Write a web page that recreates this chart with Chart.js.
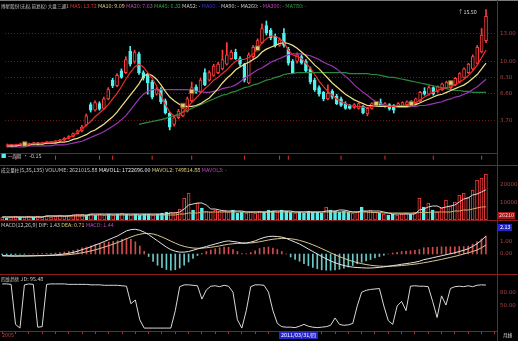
<!DOCTYPE html>
<html>
<head>
<meta charset="utf-8">
<script src="https://cdn.jsdelivr.net/npm/chart.js@4.4.1/dist/chart.umd.min.js"></script>
<style>
html, body { margin: 0; padding: 0; background: #000; }
#wrap { position: relative; width: 518px; height: 341px; background: #000; overflow: hidden;
        font-family: "Noto Sans CJK SC", "DejaVu Sans", sans-serif; }
canvas { position: absolute; left: 0; }
.t { position: absolute; font-size: 5.4px; line-height: 7px; white-space: nowrap; color: #c4c4c4; }
.cj { font-size: 4.6px; }
.hl { position: absolute; left: 0; width: 518px; height: 1px; background: #8a1c1c; }
</style>
</head>
<body>
<div id="wrap">
  <canvas id="cPrice" width="518" height="165" style="top:0"></canvas>
  <canvas id="cVol" width="518" height="54" style="top:166px"></canvas>
  <canvas id="cMacd" width="518" height="51" style="top:221px"></canvas>
  <canvas id="cJd" width="518" height="62" style="top:276px"></canvas>

  <div style="position:absolute;left:0;top:0;width:518px;height:1px;background:#7a7a7a"></div>
  <div class="hl" style="top:153px;width:497px"></div>
  <div class="hl" style="top:165px"></div>
  <div class="hl" style="top:220px"></div>
  <div class="hl" style="top:274px"></div>
  <div style="position:absolute;left:497px;top:0;width:1px;height:341px;background:#8a1c1c"></div>

  <div class="t" style="left:1px;top:3px"><span class="cj">博星股份(无权,前复权) 大盘三通1</span>
    <span style="color:#d03434">MA5: 13.72</span>
    <span style="color:#d8c878">MA10: 9.09</span>
    <span style="color:#c040c0">MA20: 7.63</span>
    <span style="color:#2ea044">MA45: 6.32</span>
    <span>MA52: -</span>
    <span style="color:#3434d0">MA60: -</span>
    <span>MA90: -</span>
    <span>MA260: -</span>
    <span style="color:#c040c0">MA300: -</span>
    <span style="color:#2ea044">MA780: -</span></div>
  <div class="t" style="left:458px;top:9px;color:#d0d0d0">↑15.50</div>
  <div class="t" style="left:1px;top:153px"><span style="color:#54f0f0">■</span> <span class="cj">一周期</span> · -0.15</div>

  <div class="t" style="left:1px;top:167px"><span class="cj">成交量柱</span>(5,35,135) VOLUME: 2621015.88
    <span style="color:#e8e8e8">MAVOL1: 1722696.00</span>
    <span style="color:#d8c878">MAVOL2: 749814.88</span>
    <span style="color:#c040c0">MAVOL3: -</span></div>
  <div class="t" style="left:498px;top:212px;background:#a01818;color:#f0d0d0;padding:0 1px">26210</div>

  <div class="t" style="left:1px;top:222px">MACD(12,26,9) DIF: 1.43 <span style="color:#d8c878">DEA: 0.71</span>
    <span style="color:#c040c0">MACD: 1.44</span></div>
  <div class="t" style="left:498px;top:224px;background:#2424c8;color:#fff;padding:0 2px">2.13</div>

  <div class="t" style="left:1px;top:276px"><span class="cj">四维趋势</span> JD: 95.48</div>

  <div class="t" style="left:2px;top:332px;color:#c04040">2005</div>
  <div class="t" style="left:279px;top:332px;background:#2424c8;color:#fff;padding:0 2px">2011/03/31/<span class="cj">四</span></div>
  <div class="t" style="left:503px;top:332px;color:#e0e0e0"><span class="cj">月线</span></div>
</div>

<script>
// months (monthly candles), two empty slots at the right end
const months = [];
for (let i = 0; i < 112; i++) {
    const m = 9 + i;
    months.push((2005 + Math.floor(m / 12)) + '/' + String(m % 12 + 1).padStart(2, '0'));
}

// ---- price (OHLC) ----
const opens = [
    1.0, 1.05, 1.0, 1.1, 1.2, 1.1, 1.2, 1.3, 1.2, 1.3,
    1.35, 1.4, 1.5, 1.6, 1.8, 2.0, 2.3, 2.6, 3.2, 5.4,
    4.8, 5.5, 5.0, 6.0, 8.0, 7.4, 9.0, 8.8, 11.1, 10.0,
    10.8, 8.8, 8.5, 7.8, 6.5, 7.0, 5.8, 4.5, 3.3, 4.0,
    4.2, 4.7, 5.8, 7.3, 6.7, 8.8, 8.0, 8.5, 8.8, 9.2,
    9.7, 10.3, 11.0, 10.3, 9.7, 7.7, 10.5, 11.2, 12.0, 13.8,
    13.3, 12.7, 11.7, 13.0, 11.3, 10.0, 10.0, 10.5, 10.0, 9.2,
    8.0, 7.2, 6.7, 6.0, 6.8, 6.3, 6.0, 5.5, 5.3, 5.1,
    5.0, 5.2, 4.4, 5.0, 5.3, 5.6, 5.2, 5.4, 5.3, 5.2,
    5.3, 5.4, 5.7, 5.5, 5.8, 6.8, 6.5, 7.2, 6.8, 7.0,
    7.2, 7.2, 7.5, 7.8, 8.3, 8.8, 9.2, 9.8, 11.0, 12.2
];
const closes = [
    1.1, 1.0, 1.1, 1.2, 1.1, 1.2, 1.3, 1.2, 1.3, 1.4,
    1.42, 1.5, 1.6, 1.8, 2.0, 2.3, 2.6, 3.0, 4.2, 4.8,
    5.6, 4.9, 6.0, 7.0, 7.4, 8.5, 8.3, 10.2, 9.7, 11.0,
    8.8, 8.2, 7.7, 6.2, 7.0, 5.7, 4.5, 3.0, 4.0, 4.7,
    5.0, 6.0, 7.2, 6.8, 8.0, 7.5, 8.8, 9.5, 9.7, 10.2,
    10.7, 11.0, 10.3, 9.7, 8.0, 10.7, 11.5, 12.2, 13.5, 13.0,
    12.5, 11.7, 12.3, 11.7, 9.8, 8.8, 10.7, 9.8, 9.0, 7.8,
    7.0, 6.5, 6.0, 6.6, 6.2, 5.5, 5.3, 5.0, 5.0, 5.4,
    5.5, 4.5, 5.0, 5.5, 5.6, 5.3, 5.5, 4.9, 4.8, 5.5,
    5.6, 5.7, 5.4, 6.0, 6.7, 6.5, 7.2, 6.5, 7.3, 7.6,
    7.8, 7.7, 8.2, 8.7, 9.2, 9.7, 10.5, 11.5, 12.8, 14.8
];
const highs = [
    1.2, 1.15, 1.2, 1.3, 1.25, 1.3, 1.4, 1.35, 1.4, 1.5,
    1.5, 1.6, 1.7, 1.9, 2.1, 2.4, 2.7, 3.2, 4.4, 5.6,
    5.8, 5.7, 6.2, 7.2, 8.2, 8.7, 9.2, 10.5, 11.6, 11.2,
    11.0, 9.0, 8.7, 8.0, 7.2, 7.2, 6.0, 4.6, 4.2, 4.9,
    5.2, 6.2, 7.8, 7.5, 8.2, 9.2, 9.0, 9.7, 9.9, 11.2,
    12.0, 11.2, 11.3, 10.5, 9.8, 10.9, 11.7, 12.4, 14.0, 14.3,
    13.5, 12.9, 12.5, 13.5, 11.5, 10.2, 10.9, 10.7, 10.2, 9.4,
    8.2, 7.4, 6.8, 7.5, 7.0, 6.5, 6.2, 5.7, 5.4, 5.5,
    5.6, 5.3, 5.1, 5.6, 5.7, 6.0, 5.6, 5.5, 5.4, 5.6,
    5.7, 5.8, 5.8, 6.1, 6.8, 7.2, 7.4, 7.3, 7.4, 7.7,
    7.9, 7.9, 8.3, 8.8, 9.3, 9.8, 10.7, 11.7, 13.5, 15.5
];
const lows = [
    0.9, 0.9, 0.95, 1.05, 1.0, 1.05, 1.15, 1.1, 1.15, 1.25,
    1.3, 1.35, 1.45, 1.55, 1.75, 1.95, 2.25, 2.5, 3.1, 4.6,
    4.7, 4.8, 4.9, 5.9, 7.2, 7.3, 8.2, 8.7, 9.5, 9.8,
    8.6, 8.0, 6.5, 6.0, 6.4, 5.5, 4.4, 2.7, 3.1, 3.9,
    4.1, 4.6, 5.7, 6.6, 6.6, 7.4, 7.9, 8.4, 8.7, 9.1,
    9.6, 10.2, 10.2, 9.5, 7.8, 7.6, 10.3, 11.1, 11.9, 12.8,
    12.3, 11.5, 11.6, 11.5, 9.6, 8.7, 9.8, 9.7, 8.8, 7.6,
    6.8, 6.3, 5.8, 5.9, 6.0, 5.4, 5.2, 4.9, 4.9, 5.0,
    4.9, 4.4, 4.2, 4.9, 5.2, 5.2, 5.1, 4.8, 4.5, 5.1,
    5.2, 5.3, 5.3, 5.4, 5.7, 6.4, 6.4, 6.4, 6.7, 6.9,
    7.1, 7.1, 7.4, 7.7, 8.2, 8.7, 9.1, 9.7, 10.9, 12.0
];

// ---- moving averages ----
const ma5 = [
    1.1, 1.1, 1.1, 1.2, 1.2, 1.2, 1.3, 1.3, 1.3, 1.4,
    1.4, 1.5, 1.6, 1.7, 1.9, 2.1, 2.4, 2.8, 3.2, 3.6,
    4.1, 4.5, 4.9, 5.4, 6.0, 6.6, 7.3, 8.1, 8.8, 9.4,
    9.7, 9.4, 8.8, 8.2, 7.4, 6.4, 5.4, 4.6, 4.2, 4.2,
    4.6, 5.1, 5.6, 6.1, 6.6, 7.1, 7.5, 8.0, 8.3, 8.7,
    9.1, 9.6, 10.0, 10.2, 10.2, 10.4, 10.8, 11.3, 12.0, 12.4,
    12.7, 12.7, 12.4, 12.0, 11.2, 10.7, 10.5, 10.3, 9.8, 9.3,
    8.6, 7.9, 7.3, 6.8, 6.4, 6.0, 5.7, 5.5, 5.3, 5.2,
    5.2, 5.1, 5.1, 5.2, 5.3, 5.3, 5.3, 5.2, 5.2, 5.3,
    5.3, 5.4, 5.5, 5.6, 5.9, 6.2, 6.5, 6.7, 6.9, 7.1,
    7.2, 7.3, 7.5, 7.8, 8.1, 8.5, 9.0, 9.6, 10.4, 11.2
];
const ma10 = [
    1.0, 1.0, 1.0, 1.1, 1.1, 1.1, 1.2, 1.2, 1.2, 1.3,
    1.3, 1.3, 1.4, 1.4, 1.5, 1.7, 1.8, 2.0, 2.2, 2.5,
    2.7, 3.0, 3.3, 3.7, 4.1, 4.6, 5.2, 5.8, 6.4, 7.0,
    7.6, 8.4, 8.7, 8.5, 8.1, 7.5, 6.8, 6.2, 5.8, 5.5,
    5.2, 5.2, 5.2, 5.3, 5.5, 5.8, 6.1, 6.6, 7.1, 7.7,
    8.2, 8.6, 9.1, 9.4, 9.7, 9.9, 10.2, 10.5, 11.0, 11.3,
    11.5, 11.7, 11.9, 12.0, 11.9, 11.7, 11.4, 11.0, 10.6, 10.1,
    9.6, 9.2, 8.7, 8.2, 7.7, 7.3, 6.9, 6.5, 6.2, 5.9,
    5.7, 5.5, 5.3, 5.3, 5.2, 5.2, 5.2, 5.2, 5.2, 5.2,
    5.2, 5.2, 5.3, 5.4, 5.6, 5.8, 6.0, 6.2, 6.4, 6.5,
    6.7, 6.9, 7.1, 7.3, 7.5, 7.8, 8.2, 8.6, 9.2, 9.8
];
const ma20 = [
    0.9, 0.9, 0.9, 0.9, 0.9, 1.0, 1.0, 1.0, 1.0, 1.0,
    1.0, 1.1, 1.1, 1.1, 1.2, 1.3, 1.4, 1.5, 1.7, 1.9,
    2.1, 2.3, 2.5, 2.8, 3.1, 3.4, 3.8, 4.2, 4.8, 5.4,
    6.0, 6.5, 6.8, 7.0, 7.0, 7.0, 7.0, 7.0, 7.0, 7.0,
    7.0, 7.0, 6.9, 6.8, 6.8, 6.7, 6.7, 6.8, 6.9, 7.1,
    7.2, 7.3, 7.5, 7.8, 8.2, 8.5, 8.8, 9.1, 9.3, 9.6,
    9.9, 10.1, 10.3, 10.5, 10.7, 10.8, 10.8, 10.8, 10.7, 10.6,
    10.4, 10.2, 9.9, 9.7, 9.5, 9.2, 8.8, 8.4, 8.0, 7.5,
    7.1, 6.7, 6.4, 6.0, 5.7, 5.5, 5.3, 5.2, 5.2, 5.1,
    5.1, 5.1, 5.2, 5.2, 5.3, 5.3, 5.4, 5.5, 5.6, 5.7,
    5.9, 6.0, 6.2, 6.3, 6.5, 6.7, 7.0, 7.3, 7.7, 8.1
];
const ma45 = [
    null, null, null, null, null, null, null, null, null, null,
    null, null, null, null, null, null, null, null, null, null,
    null, null, null, null, null, null, null, null, null, null,
    3.3, 3.4, 3.5, 3.6, 3.7, 3.8, 3.9, 4.1, 4.2, 4.4,
    4.6, 4.8, 5.0, 5.2, 5.4, 5.6, 5.8, 6.0, 6.2, 6.4,
    6.5, 6.7, 6.8, 7.0, 7.2, 7.3, 7.5, 7.6, 7.8, 8.0,
    8.1, 8.3, 8.4, 8.6, 8.7, 8.7, 8.8, 8.8, 8.8, 8.8,
    8.8, 8.8, 8.8, 8.8, 8.8, 8.8, 8.8, 8.8, 8.7, 8.7,
    8.7, 8.7, 8.7, 8.6, 8.6, 8.5, 8.4, 8.3, 8.3, 8.2,
    8.1, 8.0, 7.9, 7.8, 7.7, 7.6, 7.5, 7.4, 7.3, 7.2,
    7.1, 7.0, 6.9, 6.9, 6.8, 6.8, 6.7, 6.7, 6.7, 6.7
];

// buy/sell signal boxes and small strip marks
const signalIdx = [4, 40, 42, 57, 84, 92, 101];
const signalPrice = [1.2, 5.3, 6.8, 11.4, 5.5, 5.5, 7.7];
const stripIdx = [2, 11, 21, 24, 33, 42, 54, 62, 64, 76, 86, 97, 108];

// ---- volume (in hundreds) ----
const volume = [
    1710, 1140, 1710, 2280, 1710, 1710, 2280, 1710, 2280, 1710,
    2280, 1710, 2280, 2850, 2280, 2850, 2850, 3420, 3420, 2850,
    3420, 2850, 3420, 2850, 3420, 2850, 3420, 3990, 3420, 2850,
    3420, 2850, 3420, 3420, 2850, 3420, 3990, 4560, 4560, 4560,
    6270, 12540, 15390, 5700, 9690, 6840, 5130, 4560, 5700, 5130,
    5700, 4560, 5700, 3990, 4560, 3990, 4560, 3990, 5130, 4560,
    5700, 5130, 4560, 5700, 5130, 4560, 3990, 4560, 3990, 5130,
    4560, 4560, 3990, 7410, 5700, 5130, 4560, 5130, 4560, 3990,
    4560, 7410, 5130, 5700, 4560, 3990, 3420, 2850, 3420, 2850,
    3420, 3990, 3420, 4560, 12540, 7410, 9690, 5700, 4560, 6840,
    11400, 7980, 10260, 14250, 15390, 13110, 17100, 22800, 23940, 26210
];
const mavol1 = [
    1710, 1710, 1710, 1710, 1710, 1710, 1710, 1710, 1710, 1710,
    2280, 2280, 2280, 2280, 2280, 2280, 2850, 2850, 2850, 2850,
    3420, 3420, 3420, 3420, 3420, 3420, 3420, 3420, 3420, 3420,
    3420, 3420, 3420, 3420, 3420, 3420, 3420, 3420, 3990, 3990,
    4560, 6270, 8550, 9120, 9690, 9690, 8550, 6270, 6270, 5700,
    5130, 5130, 5130, 5130, 5130, 4560, 4560, 4560, 4560, 4560,
    4560, 5130, 5130, 5130, 5130, 5130, 4560, 4560, 4560, 4560,
    4560, 4560, 4560, 5130, 5130, 5130, 5700, 5700, 5130, 4560,
    4560, 5130, 5130, 5130, 5130, 5130, 4560, 3990, 3420, 3420,
    3420, 3420, 3420, 3420, 5700, 6270, 7410, 7980, 7980, 6840,
    7410, 7980, 8550, 10260, 11970, 12540, 14250, 14820, 15960, 17227
];
const mavol2 = [
    1710, 1710, 1710, 1710, 1710, 1710, 1710, 1710, 1710, 1710,
    2280, 2280, 2280, 2280, 2280, 2280, 2280, 2280, 2280, 2280,
    2850, 2850, 2850, 2850, 2850, 2850, 2850, 2850, 2850, 2850,
    2850, 2850, 2850, 2850, 2850, 2850, 2850, 2850, 2850, 2850,
    3420, 3420, 3990, 3990, 3990, 4560, 4560, 4560, 4560, 4560,
    4560, 4560, 4560, 4560, 4560, 4560, 4560, 4560, 4560, 4560,
    4560, 4560, 4560, 4560, 4560, 4560, 4560, 4560, 4560, 4560,
    4560, 4560, 4560, 4560, 4560, 4560, 4560, 4560, 4560, 4560,
    4560, 4560, 4560, 4275, 4275, 4275, 3990, 3990, 3990, 3990,
    3990, 3990, 3990, 3990, 4275, 4275, 4275, 4560, 4560, 4560,
    4560, 4560, 5130, 5130, 5700, 5700, 6270, 6840, 7410, 7498
];

// ---- MACD ----
const dif = [
    -0.15, -0.16, -0.17, -0.17, -0.16, -0.16, -0.15, -0.14, -0.13, -0.12,
    -0.11, -0.09, -0.07, -0.04, 0.0, 0.06, 0.13, 0.22, 0.35, 0.45,
    0.58, 0.72, 0.85, 1.0, 1.15, 1.3, 1.45, 1.65, 1.85, 1.95,
    1.98, 1.9, 1.75, 1.55, 1.3, 1.05, 0.8, 0.55, 0.35, 0.22,
    0.15, 0.15, 0.2, 0.3, 0.4, 0.5, 0.6, 0.7, 0.8, 0.9,
    1.0, 1.05, 1.0, 0.95, 0.88, 0.88, 0.95, 1.05, 1.2, 1.32,
    1.4, 1.42, 1.4, 1.35, 1.25, 1.1, 0.95, 0.8, 0.6, 0.4,
    0.2, 0.0, -0.2, -0.38, -0.55, -0.7, -0.82, -0.92, -1.0, -1.05,
    -1.08, -1.1, -1.12, -1.12, -1.1, -1.07, -1.03, -0.98, -0.93, -0.88,
    -0.82, -0.77, -0.72, -0.66, -0.58, -0.45, -0.38, -0.3, -0.22, -0.14,
    -0.06, 0.02, 0.1, 0.2, 0.3, 0.42, 0.6, 0.82, 1.1, 1.43
];
const dea = [
    -0.12, -0.13, -0.14, -0.15, -0.15, -0.15, -0.15, -0.15, -0.14, -0.14,
    -0.13, -0.12, -0.11, -0.1, -0.08, -0.05, -0.01, 0.04, 0.1, 0.17,
    0.25, 0.34, 0.44, 0.55, 0.67, 0.79, 0.92, 1.06, 1.22, 1.36,
    1.49, 1.58, 1.64, 1.65, 1.6, 1.5, 1.36, 1.2, 1.03, 0.87,
    0.72, 0.61, 0.53, 0.48, 0.46, 0.47, 0.5, 0.54, 0.59, 0.65,
    0.72, 0.78, 0.82, 0.85, 0.86, 0.87, 0.89, 0.92, 0.98, 1.05,
    1.12, 1.18, 1.22, 1.25, 1.25, 1.22, 1.17, 1.09, 0.99, 0.87,
    0.74, 0.59, 0.43, 0.27, 0.1, -0.06, -0.21, -0.35, -0.48, -0.59,
    -0.69, -0.77, -0.84, -0.9, -0.94, -0.97, -0.98, -0.98, -0.97, -0.95,
    -0.92, -0.89, -0.85, -0.81, -0.76, -0.7, -0.64, -0.57, -0.5, -0.43,
    -0.35, -0.27, -0.19, -0.1, 0.0, 0.1, 0.2, 0.32, 0.5, 0.71
];
const macdHist = [
    -0.05, -0.06, -0.06, -0.04, -0.02, -0.02, 0.0, 0.02, 0.02, 0.04,
    0.04, 0.06, 0.08, 0.12, 0.16, 0.22, 0.28, 0.36, 0.5, 0.56,
    0.66, 0.76, 0.82, 0.9, 0.96, 1.02, 1.06, 1.18, 1.26, 1.18,
    0.98, 0.64, 0.22, -0.2, -0.6, -0.9, -1.1, -1.24, -1.3, -1.26,
    -1.12, -0.9, -0.64, -0.36, -0.12, 0.06, 0.2, 0.32, 0.42, 0.5,
    0.56, 0.54, 0.36, 0.2, 0.04, 0.02, 0.12, 0.26, 0.44, 0.54,
    0.56, 0.48, 0.36, 0.2, 0.0, -0.24, -0.44, -0.58, -0.78, -0.94,
    -1.08, -1.18, -1.26, -1.3, -1.3, -1.28, -1.22, -1.14, -1.04, -0.92,
    -0.78, -0.66, -0.56, -0.44, -0.32, -0.2, -0.1, 0.0, 0.08, 0.14,
    0.2, 0.24, 0.26, 0.3, 0.36, 0.5, 0.52, 0.54, 0.56, 0.58,
    0.58, 0.58, 0.58, 0.6, 0.6, 0.64, 0.8, 1.0, 1.2, 1.44
];

// ---- JD line ----
const jd = [
    98, 98, 97, 10, 2, 96, 98, 97, 4, 5,
    97, 98, 98, 98, 98, 97, 97, 97, 97, 97,
    96, 96, 96, 95, 95, 95, 95, 94, 93, 55,
    63, 20, 2, 2, 2, 2, 2, 2, 2, 40,
    92, 96, 96, 95, 94, 65, 85, 93, 94, 92,
    95, 93, 80, 20, 2, 40, 92, 96, 96, 95,
    80, 40, 12, 5, 4, 4, 3, 6, 10, 6,
    4, 3, 4, 5, 8, 24, 10, 8, 9, 12,
    50, 80, 84, 86, 87, 88, 50, 18, 10, 50,
    60, 40, 93, 94, 93, 93, 92, 60, 25, 72,
    52, 88, 92, 93, 92, 94, 92, 95, 96, 95.48
];

const UP = '#ff3c3c';
const DOWN = '#54f0f0';
const AXIS = '#a84444';
const isUp = closes.map((c, i) => c >= opens[i]);

function rightAxis(min, max, vals, fmt) {
    return {
        position: 'right', min: min, max: max,
        afterBuildTicks: s => { s.ticks = vals.map(v => ({ value: v })); },
        afterFit: s => { s.width = 21; s.paddingTop = 0; s.paddingBottom = 0; },
        ticks: { color: AXIS, font: { size: 5.5, family: 'DejaVu Sans' }, padding: 3, callback: fmt },
        grid: { display: false, drawTicks: false },
        border: { display: false }
    };
}
const hiddenX = { type: 'category', display: false, offset: true, grid: { offset: true } };
const common = {
    responsive: false, animation: false, events: [],
    layout: { padding: 0 },
    plugins: { legend: { display: false }, tooltip: { enabled: false } }
};
const line = (data, color, order, width) => ({
    type: 'line', data: data, borderColor: color, borderWidth: width || 1,
    pointRadius: 0, tension: 0, order: order, spanGaps: false
});

// ---- price panel ----
const priceY = rightAxis(-0.5, 16, [13.0, 10.0, 8.3, 6.6, 3.7], v => v.toFixed(2));
priceY.grid = { display: true, drawTicks: false, color: '#6e1a1a', lineWidth: 1 };
priceY.border = { display: false, dash: [1, 2] };

new Chart(document.getElementById('cPrice'), {
    type: 'bar',
    data: {
        labels: months,
        datasets: [
            {
                type: 'line', data: signalIdx.map((k, j) => ({ x: months[k], y: signalPrice[j] })),
                showLine: false, pointStyle: 'rect', pointRadius: 3.2,
                pointBackgroundColor: '#e8c674', pointBorderColor: '#7a5a22', pointBorderWidth: 1, order: -3
            },
            {
                type: 'line', data: stripIdx.map(k => ({ x: months[k], y: -0.25 })),
                showLine: false, pointStyle: 'line', pointRotation: 90, pointRadius: 2,
                pointBorderColor: '#e03030', pointBorderWidth: 1, order: -3
            },
            line(ma5, '#f02a2a', -1, 1.2),
            line(ma10, '#f0e08a', -1, 1.2),
            line(ma20, '#9a34b4', -1, 1.2),
            line(ma45, '#2a8a3c', -1, 1.2),
            {
                data: opens.map((o, i) => [o, closes[i]]),
                grouped: false, barThickness: 3, borderWidth: 1, borderSkipped: false,
                backgroundColor: isUp.map(u => u ? '#000' : DOWN),
                borderColor: isUp.map(u => u ? UP : DOWN), order: 1
            },
            {
                data: lows.map((l, i) => [l, highs[i]]),
                grouped: false, barThickness: 1,
                backgroundColor: isUp.map(u => u ? UP : DOWN), order: 2
            }
        ]
    },
    options: Object.assign({}, common, { scales: { x: hiddenX, y: priceY } })
});

// ---- volume panel ----
new Chart(document.getElementById('cVol'), {
    type: 'bar',
    data: {
        labels: months,
        datasets: [
            line(mavol1, '#d8d8d8', -1),
            line(mavol2, '#d0b070', -1),
            {
                data: volume, grouped: false, barThickness: 3, borderWidth: 1, borderSkipped: false,
                backgroundColor: isUp.map(u => u ? '#000' : DOWN),
                borderColor: isUp.map(u => u ? UP : DOWN), order: 1
            }
        ]
    },
    options: Object.assign({}, common, {
        scales: { x: hiddenX, y: rightAxis(0, 30780, [10000, 20000], v => String(v)) }
    })
});

// ---- MACD panel ----
new Chart(document.getElementById('cMacd'), {
    type: 'bar',
    data: {
        labels: months,
        datasets: [
            line(dif, '#e4e4e4', -1),
            line(dea, '#d8c890', -1),
            {
                data: macdHist, grouped: false, barThickness: 1,
                backgroundColor: macdHist.map(v => v >= 0 ? '#d04c4c' : '#6cc8c8'), order: 1
            }
        ]
    },
    options: Object.assign({}, common, {
        scales: { x: hiddenX, y: rightAxis(-1.44, 2.64, [0, 1], v => v.toFixed(2)) }
    })
});

// ---- JD panel with the date strip ----
new Chart(document.getElementById('cJd'), {
    type: 'bar',
    data: { labels: months, datasets: [line(jd, '#d8d8d8', 0)] },
    options: Object.assign({}, common, {
        scales: {
            x: {
                type: 'category', offset: true, position: 'bottom',
                afterFit: s => { s.height = 7; s.paddingLeft = 0; s.paddingRight = 0; },
                grid: { display: true, drawOnChartArea: false, drawTicks: true, tickLength: 3, color: '#c02828', offset: false },
                border: { display: true, color: '#8a1c1c' },
                ticks: { autoSkip: false, maxRotation: 0, font: { size: 1 }, color: 'rgba(0,0,0,0)', padding: 0,
                         callback: (v, i) => (i % 3 === 0 ? '' : null) }
            },
            y: rightAxis(-4.35, 115.2, [50, 80], v => v.toFixed(2))
        }
    })
});
</script>
</body>
</html>
